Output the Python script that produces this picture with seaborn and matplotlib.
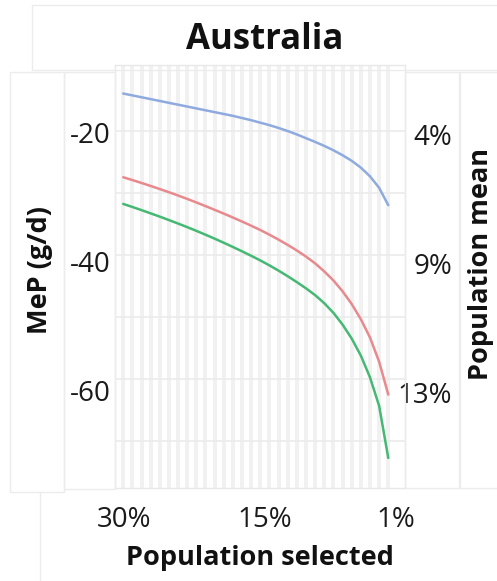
import numpy as np
import pandas as pd
import matplotlib
matplotlib.use("Agg")
import matplotlib.pyplot as plt
from matplotlib.patches import Rectangle
from matplotlib.lines import Line2D
import seaborn as sns

# Population selected (%) from the top 30% down to the top 1%
selected = list(range(30, 0, -1))

# MeP (g/d) for each selection level, one list per curve
mep_blue = [-14.0, -14.3, -14.6, -14.9, -15.2, -15.5, -15.8, -16.1, -16.4, -16.7,
            -17.0, -17.3, -17.6, -17.95, -18.3, -18.7, -19.1, -19.55, -20.05, -20.6,
            -21.2, -21.8, -22.45, -23.15, -23.95, -24.85, -25.95, -27.35, -29.2, -32.0]
mep_red = [-27.5, -27.95, -28.42, -28.9, -29.4, -29.91, -30.44, -30.99, -31.56, -32.15,
           -32.75, -33.36, -33.99, -34.64, -35.31, -36.01, -36.76, -37.56, -38.41, -39.31,
           -40.29, -41.39, -42.69, -44.14, -45.89, -47.94, -50.39, -53.34, -57.24, -62.54]
mep_green = [-31.8, -32.29, -32.8, -33.32, -33.85, -34.4, -34.96, -35.54, -36.14, -36.76,
             -37.4, -38.06, -38.74, -39.44, -40.16, -40.91, -41.71, -42.56, -43.46, -44.41,
             -45.41, -46.51, -47.81, -49.36, -51.26, -53.51, -56.26, -59.76, -64.36, -72.76]

series_names = ["blue", "red", "green"]
series_colors = ["#8eaadf", "#e8898d", "#45b873"]

# Axis ticks and labels
mep_ticks = [-20, -40, -60]
mep_tick_labels = ["-20", "-40", "-60"]
pct_tick_labels = ["4%", "9%", "13%"]
sel_ticks = [30, 15, 1]
sel_tick_labels = ["30%", "15%", "1%"]

df = pd.DataFrame({
    "selected": selected * 3,
    "MeP": mep_blue + mep_red + mep_green,
    "series": [n for n in series_names for _ in selected],
})

sns.set_theme(style="white")
plt.rcParams["font.family"] = ["Open Sans", "DejaVu Sans"]

W, H = 497, 581
fig = plt.figure(figsize=(W / 100, H / 100), dpi=100)


def box(x0, y0, x1, y1):
    """Axes rectangle from pixel coordinates (origin top-left)."""
    return [x0 / W, 1 - y1 / H, (x1 - x0) / W, (y1 - y0) / H]


# faint panel outlines around the pieces of the figure
panel_color = "#ececec"
for (x0, y0, x1, y1) in [(32, 5, 499, 70), (10, 72, 64, 492), (64, 72, 115, 489),
                         (405, 72, 459, 488), (460, 72, 499, 488)]:
    fig.add_artist(Rectangle((x0 / W, 1 - y1 / H), (x1 - x0) / W, (y1 - y0) / H,
                             transform=fig.transFigure, fill=False,
                             edgecolor=panel_color, lw=1))
fig.add_artist(Line2D([40 / W, 40 / W], [1 - 493 / H, 0], transform=fig.transFigure,
                      color=panel_color, lw=1))

pos = box(115, 65, 405, 488)
ax = fig.add_axes(pos)
sns.lineplot(data=df, x="selected", y="MeP", hue="series", palette=series_colors,
             hue_order=series_names, linewidth=1.8, legend=False, ax=ax, zorder=3)
ax.set_xlim(30.9, -0.83)
ax.set_ylim(-77.6, -9.4)
ax.set_xticks(selected)
ax.set_yticks(np.arange(-70, -10, 10))
ax.tick_params(length=0, labelbottom=False, labelleft=False)
ax.set_xlabel("")
ax.set_ylabel("")
ax.grid(True, axis="x", color="#f1f1f1", lw=2.8)
ax.grid(True, axis="y", color="#ebebeb", lw=1.2)
ax.set_axisbelow(True)
for s in ax.spines.values():
    s.set_color("#e8e8e8")
    s.set_linewidth(1)

# label panels: own scales for tick text
lab = fig.add_axes(pos, frameon=False)
lab.patch.set_alpha(0)
lab.set_xlim(31.0, -0.0)
lab.set_ylim(-75.25, -9.42)
lab.set_xticks(sel_ticks)
lab.set_xticklabels(sel_tick_labels)
lab.set_yticks(mep_ticks)
lab.set_yticklabels(mep_tick_labels)
lab.tick_params(length=0, labelsize=20, colors="#1a1a1a")
lab.tick_params(axis="y", pad=3)
lab.tick_params(axis="x", pad=13)
lab.set_xlabel("Population selected", fontsize=19.5, fontweight="bold",
               color="#111111", labelpad=8)

labr = lab.twinx()
labr.set_frame_on(False)
labr.set_ylim(-74.73, -9.15)
labr.set_yticks(mep_ticks)
labr.set_yticklabels(pct_tick_labels, ha="right")
labr.tick_params(length=0, labelsize=20, colors="#1a1a1a", pad=34)

fig.text(40 / W, 1 - 270 / H, "MeP (g/d)", rotation=90, ha="center", va="center",
         fontsize=19.5, fontweight="bold", color="#111111")
fig.text(468 / W, 1 - 264 / H, "Population mean", rotation=90, ha="left", va="center",
         fontsize=19.5, fontweight="bold", color="#111111")
fig.text(265 / W, 1 - 40 / H, "Australia", ha="center", va="center",
         fontsize=25, fontweight="bold", color="#111111")

fig.savefig("out.png", dpi=100)
